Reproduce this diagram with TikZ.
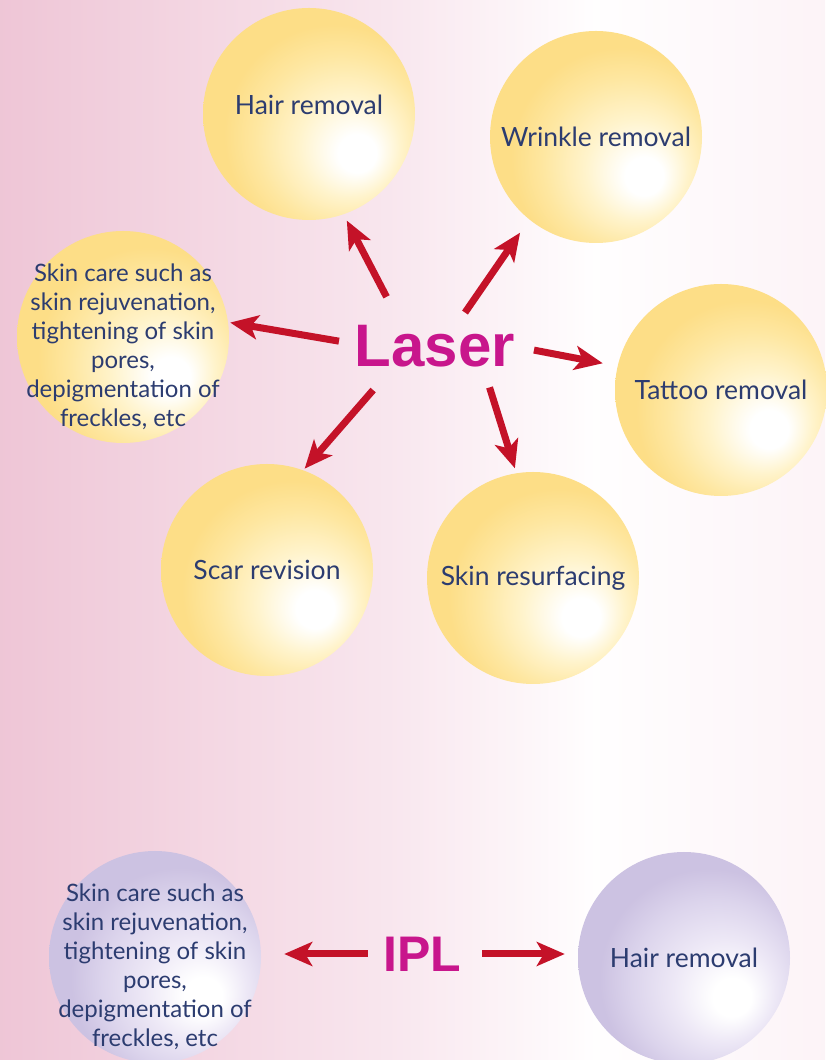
\documentclass[tikz,border=0pt]{standalone}
\usepackage{fontspec}
\setmainfont{Lato}
\newfontfamily\headfont{Liberation Sans}
\usetikzlibrary{arrows.meta}
\definecolor{textnavy}{RGB}{44,60,112}
\definecolor{arrowred}{RGB}{196,18,40}
\definecolor{headpink}{RGB}{200,22,140}
\pgfdeclareradialshading{yellowball}{\pgfpoint{12.5bp}{-10.2bp}}{rgb(0bp)=(1,1,1); rgb(4.5bp)=(1,1,1); rgb(12bp)=(1,0.955,0.8); rgb(20bp)=(0.996,0.905,0.63); rgb(26bp)=(0.992,0.87,0.53); rgb(50bp)=(0.992,0.87,0.53)}
\pgfdeclareradialshading{purpleball}{\pgfpoint{12.5bp}{-10.2bp}}{rgb(0bp)=(1,1,1); rgb(4.5bp)=(1,1,1); rgb(12bp)=(0.93,0.91,0.965); rgb(20bp)=(0.86,0.83,0.925); rgb(26bp)=(0.80,0.76,0.885); rgb(50bp)=(0.80,0.76,0.885)}
\pgfdeclarehorizontalshading{backdrop}{100bp}{rgb(0bp)=(0.935,0.775,0.84); rgb(25bp)=(0.935,0.775,0.84); rgb(49bp)=(0.975,0.905,0.935); rgb(61bp)=(1,0.995,0.997); rgb(75bp)=(0.99,0.955,0.97); rgb(100bp)=(0.99,0.955,0.97)}
\tikzset{
    ball/.style={circle, minimum size=212pt, inner sep=0pt, shade, shading=yellowball, text=textnavy, align=center, font=\fontsize{26.5}{29}\selectfont},
    iplball/.style={ball, shading=purpleball},
    caption/.style={text=textnavy, align=center, yshift=-9.5pt, font=\fontsize{24}{29}\selectfont},
    head/.style={inner sep=0pt, text=headpink, font=\headfont\bfseries\fontsize{60}{60}\selectfont},
    arrow/.style={line width=7pt, draw=arrowred, -{Stealth[length=28pt, width=24pt, inset=7pt]}}
}
\begin{document}
\begin{tikzpicture}[x=1pt, y=1pt]
    \shade[shading=backdrop] (0,0) rectangle (825,1060);
    \useasboundingbox (0,0) rectangle (825,1060);

    \node (laser) [head, minimum width=170pt, minimum height=50pt] at (435,714) {Laser};
    \node (hair) [ball, text depth=19pt] at (309,946) {Hair removal};
    \node (wrinkle) [ball] at (596,923) {Wrinkle removal};
    \node (care) [ball, label={[caption]center:{Skin care such as\\skin rejuvenation,\\tightening of skin\\pores,\\depigmentation of\\freckles, etc}}] at (123,723) {};
    \node (tattoo) [ball] at (721,670) {Tattoo removal};
    \node (scar) [ball] at (267,490) {Scar revision};
    \node (resurf) [ball] at (533,482) {Skin resurfacing};

    \draw [arrow, shorten <=27pt, shorten >=7pt] (laser.145.5) -- (hair.-71);
    \draw [arrow, shorten <=10pt, shorten >=16pt] (laser.46.8) -- (wrinkle.231.3);
    \draw [arrow, shorten <=11pt, shorten >=2pt] (laser.178.7) -- (care.8);
    \draw [arrow, shorten <=14pt, shorten >=15pt] (laser.-1.6) -- (tattoo.167.6);
    \draw [arrow, shorten <=25pt, shorten >=2pt] (laser.-151.6) -- (scar.70.6);
    \draw [arrow, shorten <=17pt, shorten >=5pt] (laser.-27.7) -- (resurf.99.3);

    % IPL
    \node (ipl) [head, font=\headfont\bfseries\fontsize{50}{50}\selectfont] at (422,106) {IPL};
    \node (iplcare) [iplball, label={[caption]center:{Skin care such as\\skin rejuvenation,\\tightening of skin\\pores,\\depigmentation of\\freckles, etc}}] at (155,103) {};
    \node (iplhair) [iplball] at (684,102) {Hair removal};

    \draw [arrow, shorten <=15pt, shorten >=23pt] (ipl.west) -- (ipl.west -| iplcare.east);
    \draw [arrow, shorten <=21pt, shorten >=13pt] (ipl.east) -- (ipl.east -| iplhair.west);
\end{tikzpicture}
\end{document}
